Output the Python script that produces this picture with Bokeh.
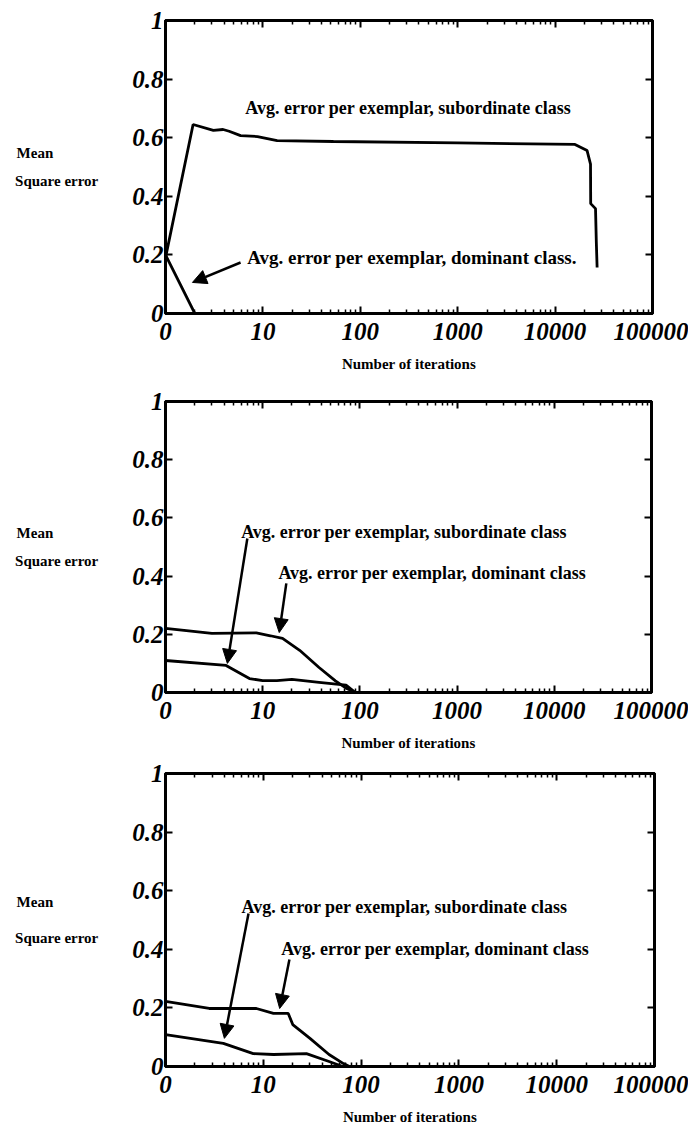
from bokeh.plotting import figure
from bokeh.models import (LogAxis, LinearAxis, FixedTicker, Label, Arrow,
                          NormalHead, Range1d)
from bokeh.layouts import column
from bokeh.embed import file_html
from bokeh.resources import INLINE

# ---------------- data ----------------
x_ticks = [1, 10, 100, 1000, 10000, 100000]
x_tick_labels = ["0", "10", "100", "1000", "10000", "100000"]
y_ticks = [0, 0.2, 0.4, 0.6, 0.8, 1.0]
y_tick_labels = ["0", "0.2", "0.4", "0.6", "0.8", "1"]

y_title_lines = ["Mean", "Square error"]
x_title = "Number of iterations"
sub_text = "Avg. error per exemplar, subordinate class"
dom_text1 = "Avg. error per exemplar, dominant class."
dom_text = "Avg. error per exemplar, dominant class"

# Panel 1
p1_sub_x = [1, 1.92, 3.1, 3.9, 4.5, 5.9, 8.8, 14, 53, 1000, 16000, 21300, 23100, 23200, 26000, 26500, 27000]
p1_sub_y = [0.19, 0.645, 0.625, 0.628, 0.622, 0.607, 0.604, 0.59, 0.587, 0.582, 0.577, 0.556, 0.51, 0.375, 0.358, 0.243, 0.157]
p1_dom_x = [1, 2.0, 10, 100, 1000, 10000, 27000]
p1_dom_y = [0.2, 0.0, 0.0, 0.0, 0.0, 0.0, 0.0]

# Panel 2
p2_dom_x = [1, 3.0, 8.6, 12, 16, 24, 38, 56, 72, 78, 87]
p2_dom_y = [0.22, 0.203, 0.205, 0.195, 0.186, 0.145, 0.086, 0.04, 0.015, 0.01, 0.0]
p2_sub_x = [1, 4.2, 7.3, 10, 14, 20, 38, 72, 90]
p2_sub_y = [0.11, 0.093, 0.048, 0.041, 0.041, 0.045, 0.035, 0.025, 0.0]

# Panel 3
p3_dom_x = [1, 2.8, 8.5, 12.7, 18, 20, 30, 47, 66, 76]
p3_dom_y = [0.222, 0.198, 0.198, 0.181, 0.181, 0.143, 0.096, 0.041, 0.01, 0.0]
p3_sub_x = [1, 3.9, 7.9, 12.7, 27.6, 47, 65]
p3_sub_y = [0.109, 0.079, 0.044, 0.041, 0.044, 0.017, 0.0]

minor_x = [m * 10 ** k for k in range(5) for m in range(2, 10)]

SERIF = "Liberation Serif"
# left-align the two-line y title (lines are right-aligned by the axis)
y_title = y_title_lines[0] + "\u00a0" * 12 + "\n" + y_title_lines[1]


def make_panel(series, texts, arrows, ylh, left, top, bottom, fw, fh):
    p = figure(x_axis_type="log", x_range=Range1d(1, 100000), y_range=Range1d(0, 1),
               frame_width=fw, frame_height=fh,
               min_border_left=left, min_border_right=688 - left - fw,
               min_border_top=top, min_border_bottom=bottom,
               output_backend="svg", toolbar_location=None)
    p.xgrid.grid_line_color = None
    p.ygrid.grid_line_color = None
    p.outline_line_color = "black"
    p.outline_line_width = 3
    p.background_fill_color = "white"
    p.border_fill_color = "white"

    xt = FixedTicker(ticks=x_ticks, minor_ticks=minor_x)
    yt = FixedTicker(ticks=y_ticks)

    bx = p.xaxis[0]
    bx.ticker = xt
    bx.major_label_overrides = {t: l for t, l in zip(x_ticks, x_tick_labels)}
    by = p.yaxis[0]
    by.ticker = yt
    by.major_label_overrides = {t: l for t, l in zip(y_ticks, y_tick_labels)}

    for ax in (bx, by):
        ax.axis_line_width = 3
        ax.major_tick_in = 7
        ax.major_tick_out = 0
        ax.major_tick_line_width = 2
        ax.minor_tick_in = 4
        ax.minor_tick_out = 0
        ax.minor_tick_line_width = 1.5
        ax.major_label_text_font = SERIF
        ax.major_label_text_font_style = "bold italic"
        ax.major_label_text_font_size = "25px"
        ax.major_label_text_color = "black"
        ax.axis_label_text_font = SERIF
        ax.axis_label_text_font_style = "bold"
        ax.axis_label_text_color = "black"
    by.minor_tick_line_color = None
    by.major_label_standoff = 2
    bx.major_label_standoff = 9
    bx.axis_label = x_title
    bx.axis_label_text_font_size = "15px"
    bx.axis_label_standoff = 13

    by.axis_label = y_title
    by.axis_label_orientation = "horizontal"
    by.axis_label_text_font_size = "15px"
    by.axis_label_text_align = "left"
    by.axis_label_text_line_height = ylh
    by.axis_label_standoff = 31

    tx = LogAxis(ticker=xt, major_label_text_font_size="1px", major_label_text_color=None,
                 major_label_standoff=0,
                 axis_line_width=3, major_tick_in=7, major_tick_out=0, major_tick_line_width=2,
                 minor_tick_in=4, minor_tick_out=0, minor_tick_line_width=1.5)
    p.add_layout(tx, "above")
    ry = LinearAxis(ticker=yt, major_label_text_font_size="1px", major_label_text_color=None,
                    major_label_standoff=0,
                    axis_line_width=3, major_tick_in=7, major_tick_out=0, major_tick_line_width=2,
                    minor_tick_line_color=None)
    p.add_layout(ry, "right")

    for xs, ys in series:
        p.line(xs, ys, line_width=2.8, line_color="black")

    for (tx_, ty_, t, fs) in texts:
        p.add_layout(Label(x=tx_, y=ty_, text=t, text_font=SERIF, text_font_style="bold",
                           text_font_size=fs, text_baseline="middle", text_color="black"))

    for (x0, y0, x1, y1) in arrows:
        p.add_layout(Arrow(x_start=x0, y_start=y0, x_end=x1, y_end=y1, line_width=2.5,
                           line_color="black",
                           end=NormalHead(size=14, fill_color="black", line_color="black")))
    return p


p1 = make_panel(
    [(p1_sub_x, p1_sub_y), (p1_dom_x, p1_dom_y)],
    [(6.6, 0.70, sub_text, "18px"), (6.9, 0.19, dom_text1, "19px")],
    [(5.9, 0.174, 1.89, 0.106)],
    1.8, left=161, top=20, bottom=67, fw=487, fh=293)

p2 = make_panel(
    [(p2_dom_x, p2_dom_y), (p2_sub_x, p2_sub_y)],
    [(6.0, 0.55, sub_text, "18px"), (14.5, 0.41, dom_text, "18px")],
    [(6.95, 0.529, 4.33, 0.10), (17.5, 0.375, 14.8, 0.206)],
    1.75, left=162, top=21, bottom=60, fw=486, fh=291)

p3 = make_panel(
    [(p3_dom_x, p3_dom_y), (p3_sub_x, p3_sub_y)],
    [(6.0, 0.546, sub_text, "18px"), (15.3, 0.40, dom_text, "18px")],
    [(7.06, 0.522, 4.0, 0.096), (18.5, 0.365, 14.7, 0.198)],
    2.2, left=165, top=20, bottom=59, fw=489, fh=293)

layout = column(p1, p2, p3, spacing=0)
open("out.html", "w").write(file_html(layout, INLINE))
